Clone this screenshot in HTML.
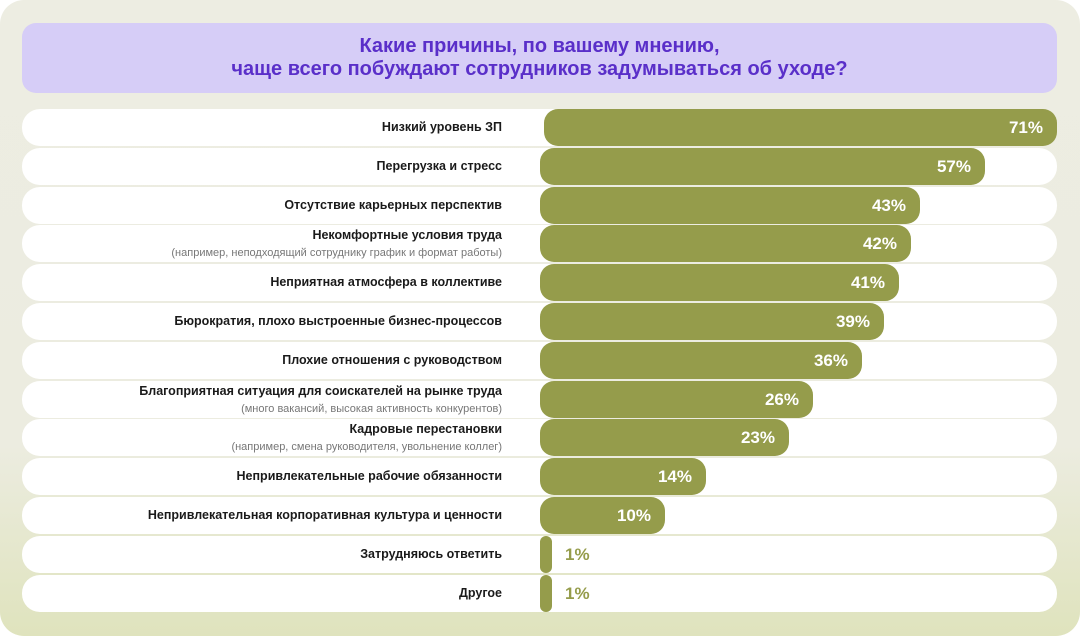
<!DOCTYPE html>
<html><head><meta charset="utf-8"><style>
body{margin:0;width:1080px;height:636px;overflow:hidden;background:#fff;font-family:"Liberation Sans",sans-serif}
.card{position:absolute;left:0;top:0;width:1080px;height:636px;border-radius:24px;background:linear-gradient(180deg,#ededE2 0%,#ecece0 70%,#dfe3bd 100%)}
.title{position:absolute;left:22px;top:23px;width:1035px;height:70px;border-radius:14px;background:#d6cdf7;color:#5a2fc9;font-weight:bold;font-size:20px;line-height:23px;text-align:center;box-sizing:border-box;padding-top:12px}
.row{position:absolute;left:22px;width:1035px;height:37px;border-radius:18px;background:#fff}
.lab{position:absolute;right:578px;text-align:right;font-size:12.5px;font-weight:bold;color:#1a1a1a;white-space:nowrap}
.sub{font-size:11px;font-weight:normal;color:#777}
.bar{position:absolute;height:37px;border-radius:14px;background:#959c4b;color:#fff;font-weight:bold;font-size:17px;line-height:37px;text-align:right;box-sizing:border-box;padding-right:14px}
.out{position:absolute;color:#959c4b;font-weight:bold;font-size:17px;line-height:37px}
</style></head><body>
<div class="card"></div>
<div class="title">Какие причины, по вашему мнению,<br>чаще всего побуждают сотрудников задумываться об уходе?</div>
<div id="c"></div>
<script>
var d=[["Низкий уровень ЗП","",71,1057],["Перегрузка и стресс","",57,985],["Отсутствие карьерных перспектив","",43,920],["Некомфортные условия труда","(например, неподходящий сотруднику график и формат работы)",42,911],["Неприятная атмосфера в коллективе","",41,899],["Бюрократия, плохо выстроенные бизнес-процессов","",39,884],["Плохие отношения с руководством","",36,862],["Благоприятная ситуация для соискателей на рынке труда","(много вакансий, высокая активность конкурентов)",26,813],["Кадровые перестановки","(например, смена руководителя, увольнение коллег)",23,789],["Непривлекательные рабочие обязанности","",14,706],["Непривлекательная корпоративная культура и ценности","",10,665],["Затрудняюсь ответить","",1,552],["Другое","",1,552]];
var h="";
d.forEach(function(r,i){var t=109+i*38.8;var x0=i==0?544:540;
h+='<div class="row" style="top:'+t+'px"></div>';
if(r[1])h+='<div class="lab" style="top:'+(t+2)+'px;line-height:17px">'+r[0]+'<br><span class="sub">'+r[1]+'</span></div>';
else h+='<div class="lab" style="top:'+t+'px;line-height:37px">'+r[0]+'</div>';
if(r[2]>1)h+='<div class="bar" style="top:'+t+'px;left:'+x0+'px;width:'+(r[3]-x0)+'px">'+r[2]+'%</div>';
else h+='<div class="bar" style="top:'+t+'px;left:540px;width:12px;border-radius:6px;padding:0"></div><div class="out" style="top:'+t+'px;left:565px">1%</div>';
});
document.getElementById("c").innerHTML=h;
</script>
</body></html>
